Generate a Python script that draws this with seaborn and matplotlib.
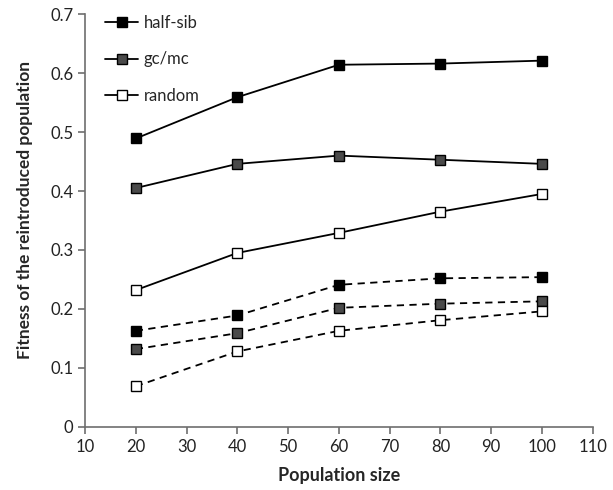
import matplotlib
matplotlib.use("Agg")
import matplotlib.pyplot as plt
import seaborn as sns
import pandas as pd

# Population sizes and fitness of the reintroduced population per strategy
pop_size = [20, 40, 60, 80, 100]
half_sib_solid = [0.489, 0.559, 0.614, 0.616, 0.621]
gcmc_solid = [0.405, 0.446, 0.460, 0.453, 0.446]
random_solid = [0.232, 0.295, 0.329, 0.365, 0.395]
half_sib_dashed = [0.163, 0.189, 0.241, 0.252, 0.254]
gcmc_dashed = [0.132, 0.159, 0.202, 0.209, 0.213]
random_dashed = [0.069, 0.128, 0.163, 0.181, 0.196]

strategies = ["half-sib", "gc/mc", "random"]
fills = {"half-sib": "#000000", "gc/mc": "#4a4a4a", "random": "#ffffff"}

series = [
    ("half-sib", "solid", half_sib_solid),
    ("gc/mc", "solid", gcmc_solid),
    ("random", "solid", random_solid),
    ("half-sib", "dashed", half_sib_dashed),
    ("gc/mc", "dashed", gcmc_dashed),
    ("random", "dashed", random_dashed),
]

rows = []
for name, kind, vals in series:
    for x, y in zip(pop_size, vals):
        rows.append({"size": x, "fitness": y, "strategy": name, "kind": kind})
df = pd.DataFrame(rows)

sns.set_theme(style="white")
plt.rcParams["font.family"] = ["Lato", "DejaVu Sans"]

fig = plt.figure(figsize=(6.13, 4.9), dpi=100)
ax = fig.add_axes([0.1387, 0.1286, 0.8283, 0.8428])

for name, kind, _ in series:
    sub = df[(df.strategy == name) & (df.kind == kind)]
    sns.lineplot(
        data=sub, x="size", y="fitness", ax=ax,
        color="black", linewidth=1.3,
        linestyle="-" if kind == "solid" else (0, (4, 3)),
        marker="s", markersize=7.5, markerfacecolor=fills[name],
        markeredgecolor="black", markeredgewidth=1.0,
        label=name if kind == "solid" else None,
        legend=False,
    )

ax.set_xlim(10, 110)
ax.set_ylim(0, 0.7)
ax.set_xticks(range(10, 111, 10))
ax.set_yticks([0, 0.1, 0.2, 0.3, 0.4, 0.5, 0.6, 0.7])
ax.set_yticklabels(["0", "0.1", "0.2", "0.3", "0.4", "0.5", "0.6", "0.7"])

for side in ["top", "right"]:
    ax.spines[side].set_visible(False)
for side in ["left", "bottom"]:
    ax.spines[side].set_color("#6e6e6e")
    ax.spines[side].set_linewidth(1.2)

ax.tick_params(axis="both", which="major", direction="out", length=5,
               width=1.2, color="#6e6e6e", labelsize=12, labelcolor="#222222",
               left=True, bottom=True)

ax.set_xlabel("Population size", fontsize=13, fontweight="bold", labelpad=9)
ax.set_ylabel("Fitness of the reintroduced population", fontsize=12.5,
              fontweight="bold")
ax.yaxis.set_label_coords(-0.102, 0.525)

handles, labels = ax.get_legend_handles_labels()
leg = ax.legend(handles, labels, loc="upper left", bbox_to_anchor=(0.01, 1.035),
                frameon=False, fontsize=12, labelspacing=1.25,
                handlelength=2.0, handletextpad=0.3)
for h in leg.legend_handles:
    h.set_markersize(6.5)

fig.savefig("out.png", dpi=100)
